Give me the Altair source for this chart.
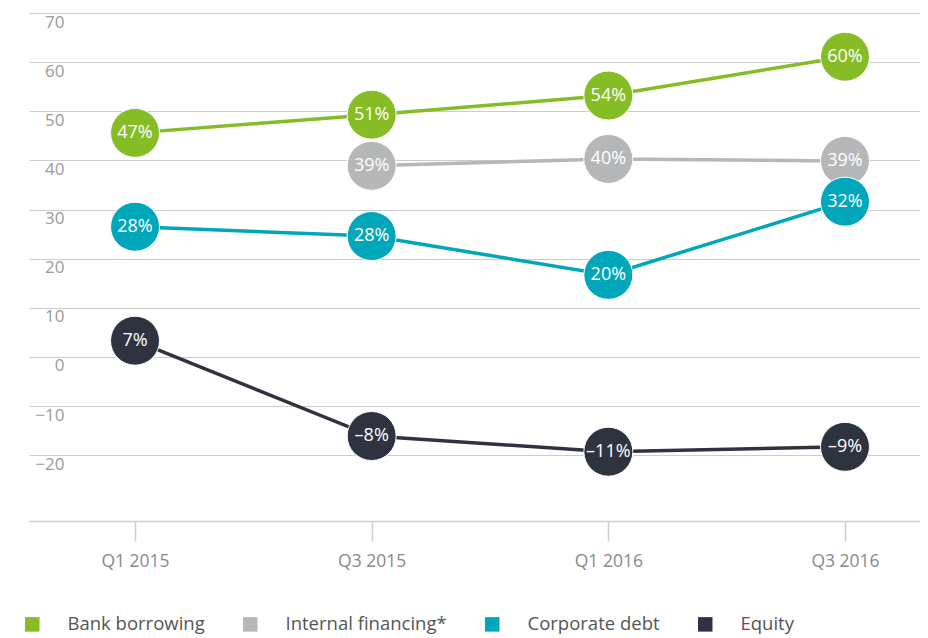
import json
import altair as alt
import pandas as pd

quarters = ["Q1 2015", "Q3 2015", "Q1 2016", "Q3 2016"]
series_names = ["Bank borrowing", "Internal financing*", "Corporate debt", "Equity"]
colors = ["#86BC25", "#B5B7B8", "#00A7BA", "#2E333F"]

# plotted positions (as drawn) and printed labels
bank_vals = [45.6, 49.3, 53.2, 61.1]
bank_labels = ["47%", "51%", "54%", "60%"]
internal_vals = [None, 38.9, 40.3, 39.9]
internal_labels = [None, "39%", "40%", "39%"]
corp_vals = [26.5, 24.6, 16.7, 31.6]
corp_labels = ["28%", "28%", "20%", "32%"]
equity_vals = [3.3, -16.1, -19.3, -18.3]
equity_labels = ["7%", "–8%", "–11%", "–9%"]

draw_order = {"Internal financing*": 0, "Bank borrowing": 1, "Corporate debt": 2, "Equity": 3}

rows = []
for name, vals, labs in [
    ("Internal financing*", internal_vals, internal_labels),
    ("Bank borrowing", bank_vals, bank_labels),
    ("Corporate debt", corp_vals, corp_labels),
    ("Equity", equity_vals, equity_labels),
]:
    for i, (v, l) in enumerate(zip(vals, labs)):
        if v is None:
            continue
        rows.append({"series": name, "qi": i, "quarter": quarters[i], "value": v,
                     "label": l, "z": draw_order[name]})
df = pd.DataFrame(rows)

FONT = "Open Sans"
label_expr = json.dumps(quarters) + "[datum.value]"

x = alt.X("qi:Q",
          scale=alt.Scale(domain=[-0.448, 3.317], nice=False, zero=False),
          axis=alt.Axis(values=[0, 1, 2, 3], labelExpr=label_expr, title=None,
                        grid=False, domain=True, domainColor="#cfcfcf", domainWidth=1.5,
                        ticks=True, tickColor="#cfcfcf", tickSize=20,
                        tickWidth=1.5, labelPadding=11, labelFontSize=17.5,
                        labelColor="#8a8a8a", labelFont=FONT))
y = alt.Y("value:Q",
          scale=alt.Scale(domain=[-33.4, 70], nice=False, zero=False),
          axis=alt.Axis(values=list(range(-20, 80, 10)), title=None, grid=True,
                        gridColor="#cccccc", gridWidth=1, domain=False, ticks=False,
                        tickSize=0, labelAlign="right", labelPadding=-35,
                        labelBaseline="top", labelOffset=1, labelFontSize=17,
                        labelColor="#9a9a9a", labelFont=FONT,
                        labelExpr="replace(datum.label, '-', '–')"))
color = alt.Color("series:N",
                  scale=alt.Scale(domain=series_names, range=colors),
                  legend=alt.Legend(title=None, orient="none", direction="horizontal",
                                    legendX=-6, legendY=602, symbolType="square",
                                    symbolSize=210, symbolStrokeWidth=0,
                                    labelFontSize=18.5, labelColor="#555555",
                                    labelFont=FONT, labelOffset=26, columnPadding=36,
                                    labelLimit=400, symbolOpacity=1))

base = alt.Chart(df)
lines = base.mark_line(strokeWidth=3.5).encode(x=x, y=y, color=color, order="qi:Q")
dots = base.mark_circle(size=2400, opacity=1, stroke="white", strokeWidth=1).encode(
    x=x, y=y, color=alt.Color("series:N", scale=alt.Scale(domain=series_names, range=colors), legend=None),
    order="z:Q")
texts = base.mark_text(color="white", fontSize=18, font=FONT).encode(
    x=x, y=y, text="label:N")

chart = alt.layer(lines, dots, texts).properties(
    width=891, height=508,
    padding={"left": 15, "top": 5, "right": 0, "bottom": 0},
).configure(background="white").configure_view(stroke=None, strokeWidth=0)

chart.save("out.html", embed_options={"renderer": "svg", "actions": False})
